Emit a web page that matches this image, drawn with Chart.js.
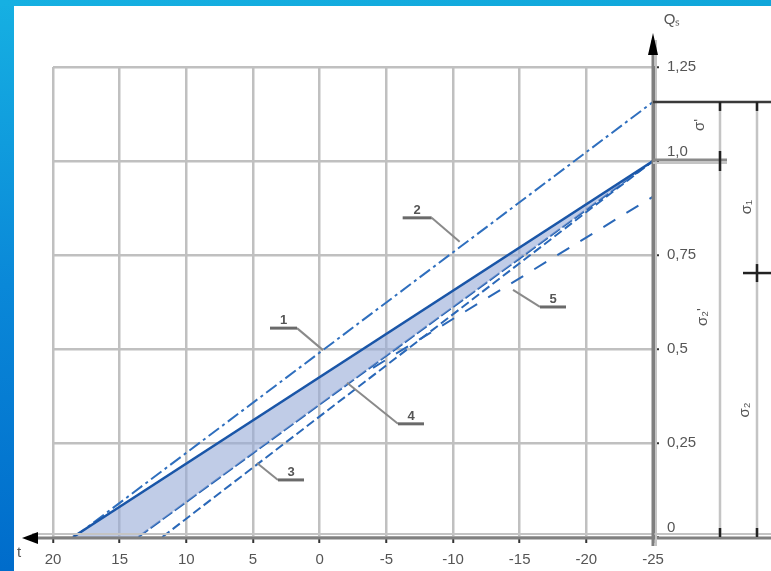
<!DOCTYPE html>
<html><head><meta charset="utf-8">
<script src="https://cdn.jsdelivr.net/npm/chart.js@4.4.1/dist/chart.umd.min.js"></script>
<style>
html,body{margin:0;padding:0;background:#fff;}
#wrap{position:relative;width:771px;height:571px;overflow:hidden;background:#fff;}
#frameL{position:absolute;left:0;top:0;width:14px;height:571px;background:linear-gradient(#16b0e2,#0a88d8 50%,#006ccb);}
#frameT{position:absolute;left:0;top:0;width:771px;height:6px;background:linear-gradient(90deg,#16b0e2,#10a6da);}
canvas{position:absolute;left:0;top:0;}
</style></head>
<body><div id="wrap"><canvas id="c" width="771" height="571"></canvas><div id="frameL"></div><div id="frameT"></div></div>
<script>
// ---- data ----
const xTickLabels = ['20','15','10','5','0','-5','-10','-15','-20','-25'];
const yTickLabels = ['0','0,25','0,5','0,75','1,0','1,25'];
const curveNames = ['4','1','2','3','5'];
const curve1X = [18.5, -25];  const curve1Y = [0, 1.0];
const curve2X = [18.4, -25];  const curve2Y = [0, 1.157];
const curve3X = [11.8, -25];  const curve3Y = [0, 1.0];
const curve4X = [13.6, -25];  const curve4Y = [0, 1.0];
const curve5X = [-4, -25];    const curve5Y = [0.45, 0.905];
const bandBaseX = [18.5, 13.6, -25]; const bandBaseY = [0, 0, 1.0];
const dimLevels = [0, 1.0, 1.157, 0.702];
const sideLabels = ["σ'", 'σ₁', "σ₂'", 'σ₂'];
const axisTitles = ['Qₛ', 't'];
const calloutTips = {'2':[-10.5,0.785], '1':[-0.25,0.497], '4':[-2.05,0.41], '3':[4.7,0.197], '5':[-14.5,0.657]};

function pts(xs, ys){ return xs.map((x,i)=>({x:x, y:ys[i]})); }

const datasets = [
  {label:'band', data:pts(bandBaseX,bandBaseY), borderWidth:0, borderColor:'rgba(0,0,0,0)', pointRadius:0, fill:false},
  {label:curveNames[1], data:pts(curve1X,curve1Y), borderColor:'#1a56a8', borderWidth:2.5, pointRadius:0, fill:'-1', backgroundColor:'rgba(150,170,215,0.6)'},
  {label:curveNames[0], data:pts(curve4X,curve4Y), borderColor:'#1f5fb2', borderWidth:2, borderDash:[12,3], pointRadius:0, fill:false},
  {label:curveNames[2], data:pts(curve2X,curve2Y), borderColor:'#2f6fbe', borderWidth:2, borderDash:[13,4,3,4], pointRadius:0, fill:false},
  {label:curveNames[3], data:pts(curve3X,curve3Y), borderColor:'#2a68b8', borderWidth:2, borderDash:[9,4], pointRadius:0, fill:false},
  {label:curveNames[4], data:pts(curve5X,curve5Y), borderColor:'#2a68b8', borderWidth:2, borderDash:[14,13], pointRadius:0, fill:false}
];

function line(ctx,x1,y1,x2,y2){ctx.beginPath();ctx.moveTo(x1,y1);ctx.lineTo(x2,y2);ctx.stroke();}

const extras = {
  id:'extras',
  afterDraw(chart){
    const ctx=chart.ctx, xs=chart.scales.x, ys=chart.scales.y, a=chart.chartArea, W=chart.width;
    const xr=a.right, y0=ys.getPixelForValue(dimLevels[0]);
    ctx.save();
    ctx.lineCap='butt';
    // x axis line (double) extended
    ctx.strokeStyle='#c4c4c4'; ctx.lineWidth=2; line(ctx,32,y0-3,W,y0-3);
    ctx.strokeStyle='#808080'; ctx.lineWidth=3; line(ctx,32,y0+1,W,y0+1);
    ctx.fillStyle='#000';
    ctx.beginPath(); ctx.moveTo(22,y0+1); ctx.lineTo(38,y0-5); ctx.lineTo(38,y0+7); ctx.closePath(); ctx.fill();
    // y axis extended
    ctx.strokeStyle='#7f7f7f'; ctx.lineWidth=3; line(ctx,xr,40,xr,y0+9);
    ctx.strokeStyle='#c4c4c4'; ctx.lineWidth=2; line(ctx,xr+3,40,xr+3,y0+9);
    ctx.fillStyle='#000';
    ctx.beginPath(); ctx.moveTo(xr,33); ctx.lineTo(xr-5,55); ctx.lineTo(xr+5,55); ctx.closePath(); ctx.fill();
    // dimension lines
    const yTop=ys.getPixelForValue(dimLevels[2]), y1=ys.getPixelForValue(dimLevels[1]), yc=ys.getPixelForValue(dimLevels[3]);
    const xa=xr+67, xb=xr+104;
    ctx.strokeStyle='#c4c4c4'; ctx.lineWidth=2.5;
    line(ctx,xa,yTop,xa,y0); line(ctx,xb,yTop,xb,y0);
    ctx.strokeStyle='#3a3a3a'; ctx.lineWidth=2.5; line(ctx,xr,yTop,W,yTop);
    ctx.strokeStyle='#8a8a8a'; ctx.lineWidth=3; line(ctx,xr,y1-1,xa+7,y1-1);
    ctx.strokeStyle='#c4c4c4'; ctx.lineWidth=2; line(ctx,xr,y1+2,xa+7,y1+2);
    ctx.strokeStyle='#222'; ctx.lineWidth=2.5;
    line(ctx,xa,yTop,xa,yTop+9); line(ctx,xb,yTop,xb,yTop+9);
    line(ctx,xa,y1-10,xa,y1+10);
    line(ctx,xa,y0-9,xa,y0); line(ctx,xb,y0-9,xb,y0);
    line(ctx,xb,yc-9,xb,yc+9); line(ctx,xb-14,yc,W,yc);
    // rotated side labels
    ctx.fillStyle='#555'; ctx.font='15px "Liberation Sans", Arial, sans-serif';
    ctx.textAlign='center'; ctx.textBaseline='middle';
    const sl=[[xr+47,125],[xr+94,207],[xr+50,317],[xr+92,410]];
    sl.forEach((p,i)=>{ctx.save();ctx.translate(p[0],p[1]);ctx.rotate(-Math.PI/2);ctx.fillText(sideLabels[i],0,0);ctx.restore();});
    // axis titles
    ctx.font='15px "Liberation Sans", Arial, sans-serif';
    ctx.fillText(axisTitles[0], xr+19, 20);
    ctx.fillText(axisTitles[1], 19, y0+16);
    // callouts
    const geo={'2':[-57,-28,-24],'1':[-53,-26,-22],'4':[51,77,41],'3':[21,47,17],'5':[27,53,17]};
    ctx.font='bold 13px "Liberation Sans", Arial, sans-serif';
    Object.keys(calloutTips).forEach(k=>{
      const tx=xs.getPixelForValue(calloutTips[k][0]), ty=ys.getPixelForValue(calloutTips[k][1]);
      const g=geo[k]; const uy=ty+g[2];
      const ex = g[0]<0 ? tx+g[1] : tx+g[0];
      ctx.strokeStyle='#8a8a8a'; ctx.lineWidth=2; line(ctx,tx,ty,ex,uy);
      ctx.strokeStyle='#6a6a6a'; ctx.lineWidth=3; line(ctx,tx+g[0],uy,tx+g[1],uy);
      ctx.fillStyle='#555'; ctx.textBaseline='alphabetic';
      ctx.fillText(k,tx+(g[0]+g[1])/2,uy-4);
    });
    ctx.restore();
  }
};

new Chart(document.getElementById('c'),{
  type:'line',
  data:{datasets:datasets},
  plugins:[extras],
  options:{
    responsive:false, animation:false,
    layout:{padding:{left:53,top:67,right:0,bottom:0}},
    plugins:{legend:{display:false},tooltip:{enabled:false}},
    scales:{
      x:{type:'linear',reverse:true,min:-25,max:20,
         ticks:{stepSize:5,padding:8,color:'#555',font:{family:'"Liberation Sans", Arial, sans-serif',size:15},
                maxRotation:0,autoSkip:false,
                callback:(v)=>xTickLabels[Math.round((20-v)/5)]},
         grid:{color:'#c0c0c0',lineWidth:2.5,tickColor:'#333',tickLength:6,tickWidth:2},
         border:{display:false},
         afterFit:(s)=>{s.height=34;}},
      y:{position:'right',min:0,max:1.25,
         ticks:{stepSize:0.25,padding:8,color:'#555',font:{family:'"Liberation Sans", Arial, sans-serif',size:15},
                callback:(v)=>{const i=Math.round(v/0.25); const t=yTickLabels[i]; return (i===0||i===4)?[t,'']:t;}},
         grid:{color:'#c0c0c0',lineWidth:2.5,tickColor:'#333',tickLength:6,tickWidth:2},
         border:{color:'#7f7f7f',width:3},
         afterFit:(s)=>{s.width=118;}}
    }
  }
});
</script>
</body></html>
